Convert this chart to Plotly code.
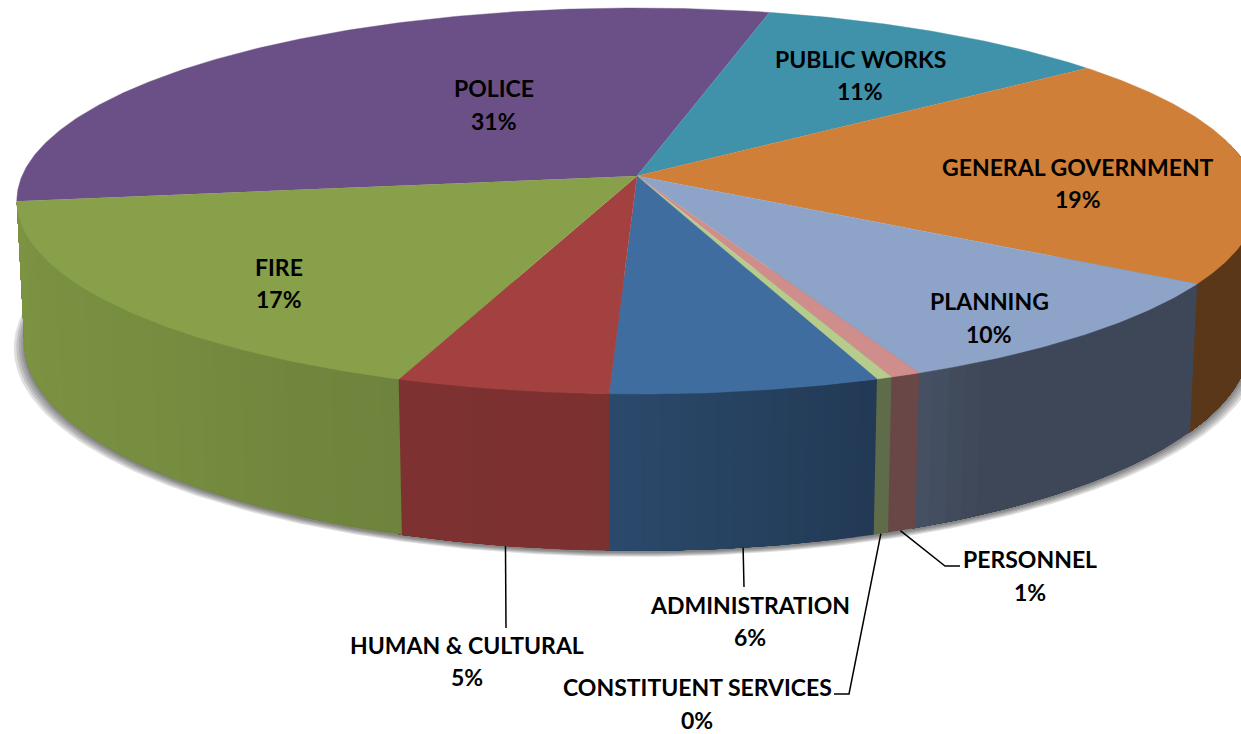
import numpy as np
import plotly.graph_objects as go

# Budget share per department, clockwise from the left edge of the disc
departments = ["POLICE", "PUBLIC WORKS", "GENERAL GOVERNMENT", "PLANNING", "PERSONNEL",
               "CONSTITUENT SERVICES", "ADMINISTRATION", "HUMAN & CULTURAL", "FIRE"]
shares = [31.0, 10.6, 19.4, 9.5, 0.7, 0.36, 6.2, 4.9, 17.4]

top_colors = ["#6b5087", "#3f92aa", "#cf7f38", "#8da3c8", "#cf8d8b",
              "#b5cc8c", "#406d9f", "#a34140", "#87a049"]

# Label centres in page pixels: name line, percent line
label_pos = {
    "POLICE": (494, 88, 121),
    "PUBLIC WORKS": (860, 59, 91),
    "GENERAL GOVERNMENT": (1078, 167, 199),
    "PLANNING": (989, 301, 334),
    "PERSONNEL": (1030, 559, 592),
    "CONSTITUENT SERVICES": (697, 687, 720),
    "ADMINISTRATION": (750, 605, 637),
    "HUMAN & CULTURAL": (467, 645, 677),
    "FIRE": (279, 267, 299),
}

# Leader lines: position along the slice's rim (0-1), then elbow points in page pixels
leaders = {
    "PERSONNEL": (0.55, [(945, 566), (960, 566)]),
    "CONSTITUENT SERVICES": (0.5, [(849, 694), (834, 694)]),
    "ADMINISTRATION": (0.505, [(744, 587)]),
    "HUMAN & CULTURAL": (0.49, [(506, 628)]),
}

# Perspective camera for the disc
CX, CY = 637.0, 176.0
A, B, P = 615.0, 189.8, 0.1295
DEPTH_W, DEPTH_H = 0.012, 141.0
START_DEG = 262.5
BAND_DEG = 1.5


def project(theta_deg, t):
    """Rim point at angle theta (clockwise from the back); t=0 top face, t=1 bottom face."""
    th = np.radians(theta_deg)
    x3, z3 = np.sin(th), np.cos(th)
    w = 1 + P * z3 + DEPTH_W * t
    return CX + A * x3 / w, CY + (-B * z3 + DEPTH_H * t) / w


def shade_at(theta_deg):
    """Side-wall brightness: bright at the far left, darkening round to the right."""
    return np.interp(theta_deg,
                     [90, 125, 150, 158, 161, 182, 183, 199.5, 200, 225, 262],
                     [0.43, 0.44, 0.44, 0.52, 0.54, 0.68, 0.76, 0.77, 0.82, 0.88, 0.93])


def scaled(hex_color, f):
    rgb = [int(hex_color[i:i + 2], 16) for i in (1, 3, 5)]
    return "rgb(%d,%d,%d)" % tuple(int(c * f) for c in rgb)


def add_poly(fig, xs, ys, fill, line=None, width=0.0):
    fig.add_trace(go.Scatter(x=xs, y=ys, mode="lines", fill="toself", fillcolor=fill,
                             line=dict(color=line or fill, width=width),
                             hoverinfo="skip", showlegend=False))


fig = go.Figure()

# Slice boundaries from the shares
total = sum(shares)
sweeps = [s / total * 360 for s in shares]
edges = START_DEG + np.concatenate([[0], np.cumsum(sweeps)])

# Soft drop shadow under the bottom rim
shadow_arc = np.linspace(70, 275, 240)
for grow, drop in [(1.017, 6), (1.013, 5), (1.009, 4), (1.005, 3), (1.002, 2)]:
    bx, by = project(shadow_arc, 1)
    add_poly(fig, list(CX + (bx - CX) * grow), list(by + drop), "rgba(40,40,40,0.15)",
             line="rgba(0,0,0,0)")

# Side wall: each band runs on to the end of its slice and the next band paints
# over it, which keeps hairline gaps from opening between the bands
for i, color in enumerate(top_colors):
    lo, hi = edges[i], edges[i + 1]
    if lo >= 360:
        lo, hi = lo - 360, hi - 360
    a0, a1 = max(lo, 80), min(hi + 0.3, START_DEG)
    if a1 <= a0:
        continue
    n_bands = max(1, int((a1 - a0) / BAND_DEG))
    for c0 in np.linspace(a0, a1, n_bands, endpoint=False):
        arc = np.linspace(c0, a1, 30)
        tx, ty = project(arc, 0)
        bx, by = project(arc[::-1], 1)
        add_poly(fig, list(tx) + list(bx), list(ty) + list(by),
                 scaled(color, shade_at(c0 + BAND_DEG / 2)))

# Top face
for i, color in enumerate(top_colors):
    arc = np.linspace(edges[i], edges[i + 1], max(3, int(sweeps[i] * 2)))
    rx, ry = project(arc, 0)
    add_poly(fig, [CX] + list(rx), [CY] + list(ry), color, width=0.4)

# Leader lines
for name, (frac, elbows) in leaders.items():
    i = departments.index(name)
    sx, sy = project(edges[i] + frac * sweeps[i], 1)
    xs = [float(sx)] + [p[0] for p in elbows]
    ys = [float(sy)] + [p[1] for p in elbows]
    fig.add_trace(go.Scatter(x=xs, y=ys, mode="lines", line=dict(color="#000000", width=1.5),
                             hoverinfo="skip", showlegend=False))

# Data labels
label_font = dict(family="Lato, Carlito, sans-serif", size=23, color="#000000", weight=700)
for name, share in zip(departments, shares):
    x, y_name, y_pct = label_pos[name]
    for text, y in ((name, y_name), (f"{share:.0f}%", y_pct)):
        fig.add_annotation(x=x, y=y, text=text, showarrow=False, font=label_font,
                           xanchor="center", yanchor="middle")

fig.update_layout(
    width=1241, height=734, margin=dict(l=0, r=0, t=0, b=0),
    paper_bgcolor="white", plot_bgcolor="white", showlegend=False,
    xaxis=dict(range=[0, 1241], visible=False, fixedrange=True),
    yaxis=dict(range=[734, 0], visible=False, fixedrange=True),
)
fig.write_html("out.html", config=dict(displayModeBar=False))
